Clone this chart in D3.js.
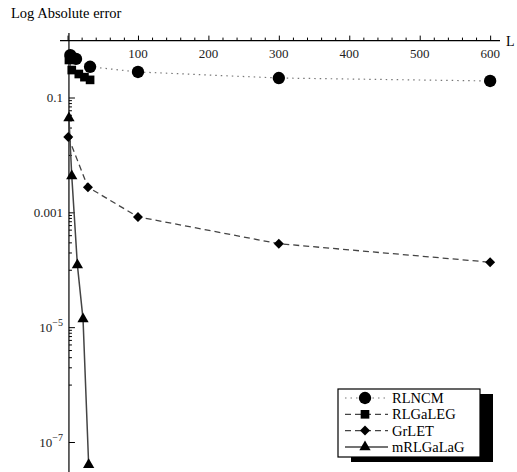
<!DOCTYPE html>
<html>
<head>
<meta charset="utf-8">
<script src="https://cdn.jsdelivr.net/npm/d3@7"></script>
<style>
  body { margin: 0; background: #fff; }
  text { font-family: "Liberation Serif", "DejaVu Serif", serif; }
</style>
</head>
<body>
<svg id="chart" width="517" height="472"></svg>
<script>
// data
var seriesNames = ['RLNCM', 'RLGaLEG', 'GrLET', 'mRLGaLaG'];
var rlncmL = [4, 12, 32, 100, 300, 600];
var rlncmErr = [0.56, 0.48, 0.35, 0.284, 0.223, 0.198];
var rlgalegL = [2, 6, 16, 24, 32];
var rlgalegErr = [0.46, 0.307, 0.262, 0.231, 0.207];
var grletL = [1, 29, 100, 300, 600];
var grletErr = [0.021, 0.0028, 0.00085, 0.00029, 0.000138];
var mrlL = [2, 6, 14, 22, 30];
var mrlErr = [0.045, 0.0044, 0.000123, 0.0000141, 0.000000041];

var xMajorTicks = [100, 200, 300, 400, 500, 600];
var yMajorTicks = [1e-1, 1e-3, 1e-5, 1e-7];
var yMajorLabels = ['0.1', '0.001', ['10', '\u22125'], ['10', '\u22127']];

var svg = d3.select('#chart');

// scales
var x = d3.scaleLinear().domain([-10.7, 614]).range([60, 500]);
var y = d3.scaleLog().domain([1e-7, 1]).range([442.5, 40.6]);

var axisX = x(2);      // vertical axis sits at L = 2
var axisY = y(1);      // horizontal axis sits at error = 1

// x axis (ticks point up)
var xAxis = svg.append('g').attr('transform', 'translate(0,' + axisY + ')');
xAxis.call(d3.axisTop(x)
        .tickValues(d3.range(0, 601, 20))
        .tickSize(3)
        .tickFormat(''))
xAxis.select('.domain').remove();
xAxis.selectAll('.tick line').attr('stroke', '#000')
    .attr('y2', function(d){ return d % 100 == 0 ? -5 : -3; });
xAxis.append('line')
    .attr('x1', 60).attr('x2', 500)
    .attr('stroke', '#000').attr('stroke-width', 1.2);
xAxis.selectAll('.lbl')
    .data(xMajorTicks)
    .enter().append('text')
    .attr('x', function(d){ return x(d); })
    .attr('y', 17)
    .attr('text-anchor', 'middle')
    .attr('font-size', 13)
    .attr('fill', '#222')
    .text(function(d){ return d; });

// y axis (ticks point right)
var yMinor = [];
[-1, -3, -5].forEach(function(k){
    for (var m = 1; m <= 9; m++) yMinor.push(m * Math.pow(10, k - 1));
});
var yAxis = svg.append('g').attr('transform', 'translate(' + axisX + ',0)');
yAxis.append('line')
    .attr('y1', 33).attr('y2', 472)
    .attr('stroke', '#000').attr('stroke-width', 1.2);
yAxis.selectAll('.minor')
    .data(yMinor)
    .enter().append('line')
    .attr('x1', 0).attr('x2', 3)
    .attr('y1', function(d){ return y(d); })
    .attr('y2', function(d){ return y(d); })
    .attr('stroke', '#000');
yAxis.selectAll('.major')
    .data(yMajorTicks)
    .enter().append('line')
    .attr('x1', 0).attr('x2', 6)
    .attr('y1', function(d){ return y(d); })
    .attr('y2', function(d){ return y(d); })
    .attr('stroke', '#000');
yMajorTicks.forEach(function(v, i){
    var lab = yMajorLabels[i];
    var t = yAxis.append('text')
        .attr('x', -6)
        .attr('y', y(v) + 4)
        .attr('text-anchor', 'end')
        .attr('font-size', 13)
        .attr('fill', '#222');
    if (typeof lab == 'string') {
        t.text(lab);
    } else {
        t.append('tspan').text(lab[0]);
        t.append('tspan').attr('dy', -6).attr('font-size', 10).text(lab[1]);
    }
});

// titles
svg.append('text').attr('x', 11).attr('y', 18)
    .attr('font-size', 14.5).text('Log Absolute error');
svg.append('text').attr('x', 506).attr('y', 46)
    .attr('font-size', 14).text('L');

// series
var series = [
    {L: rlncmL, e: rlncmErr, dash: '1.5,4', stroke: '#777', width: 1.2, mark: 'circle'},
    {L: rlgalegL, e: rlgalegErr, dash: '6,4', stroke: '#444', width: 1.2, mark: 'square'},
    {L: grletL, e: grletErr, dash: '6,4', stroke: '#444', width: 1.3, mark: 'diamond'},
    {L: mrlL, e: mrlErr, dash: null, stroke: '#444', width: 1.5, mark: 'triangle'}
];
var symbols = {
    circle: d3.symbol().type(d3.symbolCircle).size(120),
    square: d3.symbol().type(d3.symbolSquare).size(75),
    diamond: d3.symbol().type(d3.symbolSquare).size(50),
    triangle: d3.symbol().type(d3.symbolTriangle).size(55)
};
var rot = {circle: 0, square: 0, diamond: 45, triangle: 0};

var line = d3.line()
    .x(function(d){ return x(d.x); })
    .y(function(d){ return y(d.y); });

series.forEach(function(s){
    var xy = s.L.map(function(v, i){ return {x: v, y: s.e[i]}; });
    svg.append('path')
        .datum(xy)
        .attr('fill', 'none')
        .attr('stroke', s.stroke)
        .attr('stroke-width', s.width)
        .attr('stroke-dasharray', s.dash)
        .attr('d', line);
});
series.forEach(function(s){
    var xy = s.L.map(function(v, i){ return {x: v, y: s.e[i]}; });
    svg.selectAll(null)
        .data(xy)
        .enter().append('path')
        .attr('d', symbols[s.mark])
        .attr('transform', function(d){
            return 'translate(' + x(d.x) + ',' + y(d.y) + ') rotate(' + rot[s.mark] + ')';
        })
        .attr('fill', '#000');
});

// legend with drop shadow
var lg = svg.append('g').attr('transform', 'translate(338,389)');
lg.append('rect').attr('x', 13).attr('y', 5).attr('width', 142).attr('height', 68).attr('fill', '#000');
lg.append('rect').attr('x', 0).attr('y', 0).attr('width', 142).attr('height', 68)
    .attr('fill', '#fff').attr('stroke', '#000').attr('stroke-width', 1.2);
seriesNames.forEach(function(name, i){
    var s = series[i];
    var row = lg.append('g').attr('transform', 'translate(0,' + (9 + i * 16.3) + ')');
    row.append('line')
        .attr('x1', 7).attr('x2', 50)
        .attr('stroke', s.stroke)
        .attr('stroke-width', s.width)
        .attr('stroke-dasharray', s.dash);
    row.append('path')
        .attr('d', symbols[s.mark])
        .attr('transform', 'translate(27,0) rotate(' + rot[s.mark] + ')')
        .attr('fill', '#000');
    row.append('text')
        .attr('x', 54).attr('y', 5)
        .attr('font-size', 14.5)
        .text(name);
});
</script>
</body>
</html>
